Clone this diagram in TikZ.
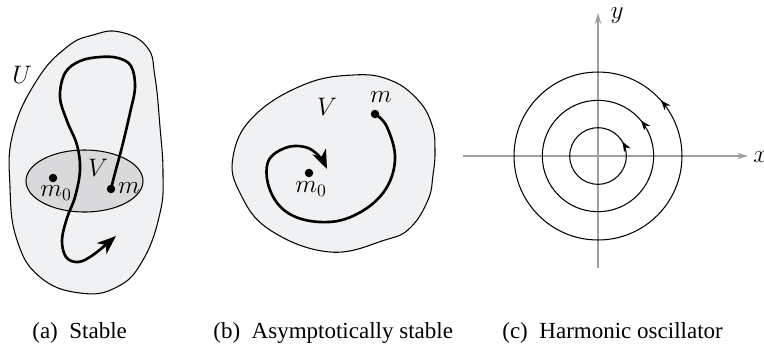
\documentclass[tikz,border=0pt]{standalone}
\usepackage{fontspec}
\setmainfont{Liberation Serif}
\usetikzlibrary{arrows.meta,decorations.markings}
\definecolor{outerfill}{HTML}{F0F1F3}
\definecolor{innerfill}{HTML}{D9D9DB}
\definecolor{axisgray}{HTML}{A0A0A0}
\begin{document}
\begin{tikzpicture}[x=0.02cm,y=-0.02cm,
  lbl/.style={font=\fontsize{14.5}{16}\selectfont, inner sep=0pt},
  captext/.style={font=\fontsize{13.1}{15}\selectfont, inner sep=0pt, anchor=base west},
  blob/.style={draw=black, line width=0.6pt, fill=outerfill},
  traj/.style={line width=1.5pt, line join=round, line cap=round},
  bigtip/.style={-{Stealth[length=3.8mm,width=2.9mm,inset=1.1mm]}},
  dotnode/.style={circle, fill=black, inner sep=0pt, minimum size=0.17cm},
  axis/.style={draw=axisgray, line width=0.6pt, -{Stealth[length=2.2mm,width=1.3mm,inset=0.7mm]}},
  orbit/.style={line width=0.6pt, postaction={decorate}}
]
\useasboundingbox (0,0) rectangle (764,346);

% ---------- (a) Stable ----------
\draw[blob] plot[smooth cycle, tension=0.75] coordinates {
  (120,32) (147,47) (155,77) (160,127) (163,173) (160,213) (143,260) (117,287)
  (80,293) (40,277) (17,240) (10,187) (13,133) (37,80) (67,47) (93,35)};
\draw[line width=0.6pt, fill=innerfill] (84.5,181) ellipse [x radius=58.5, y radius=31];
\node[dotnode] (a-m0) at (53,178) {};
\node[dotnode] (a-m) at (111,189) {};
\coordinate (a-end) at (116,236);
\draw[traj, bigtip] plot[smooth, tension=0.6] coordinates {
  (a-m) (115,173) (122,147) (130,113) (135,87) (131,66) (118,58) (100,57) (80,61)
  (65,73) (60,97) (67,121) (77,145) (80,170) (75,197) (67,218) (62,240) (66,257)
  (78,262) (93,255) (a-end)};
\node[lbl] (a-U) at (22,75) {$U$};
\node[lbl] (a-V) at (98,168) {$V$};
\node[lbl] (a-m0l) at (56,193) {$m_0$};
\node[lbl] (a-ml) at (129,188) {$m$};

% ---------- (b) Asymptotically stable ----------
\draw[blob] plot[smooth cycle, tension=0.7] coordinates {
  (233,157) (253,117) (303,85) (353,75) (390,80) (418,100) (432,125) (435,150)
  (433,175) (428,200) (410,228) (385,240) (330,252) (270,230) (240,193)};
\node[dotnode] (b-m0) at (309,173) {};
\node[dotnode] (b-m) at (375,114) {};
\coordinate (b-end) at (327,169);
\draw[traj, bigtip] plot[smooth, tension=0.65] coordinates {
  (b-m) (387,127) (395,160) (383,193) (353,216) (320,222) (288,213) (270,190)
  (268,162) (285,148) (305,147) (319,156) (b-end)};
\node[lbl] (b-V) at (327,107) {$V$};
\node[lbl] (b-ml) at (381,97) {$m$};
\node[lbl] (b-m0l) at (311,189) {$m_0$};

% ---------- (c) Harmonic oscillator ----------
\coordinate (c-o) at (598,156);
\coordinate (c-xl) at (463,156);
\coordinate (c-xr) at (748,156);
\coordinate (c-yb) at (598,268);
\coordinate (c-yt) at (598,13);
\draw[axis] (c-xl) -- (c-xr);
\draw[axis] (c-yb) -- (c-yt);
\node[lbl, anchor=west] (c-x) at (753,157) {$x$};
\node[lbl] (c-y) at (617,16) {$y$};
\draw[orbit, decoration={markings, mark=at position 0.085 with {\arrow{Stealth[length=2mm,width=1.5mm]}}}]
  (c-o) ++(0:0.566cm) arc[start angle=0, end angle=360, radius=0.566cm];
\draw[orbit, decoration={markings, mark=at position 0.11 with {\arrow{Stealth[length=2mm,width=1.5mm]}}}]
  (c-o) ++(0:1.114cm) arc[start angle=0, end angle=360, radius=1.114cm];
\draw[orbit, decoration={markings, mark=at position 0.115 with {\arrow{Stealth[length=2mm,width=1.5mm]}}}]
  (c-o) ++(0:1.68cm) arc[start angle=0, end angle=360, radius=1.68cm];

% ---------- captions ----------
\node[captext] (cap-a) at (32,338) {(a)\hspace{0.5em}Stable};
\node[captext] (cap-b) at (213,338) {(b)\hspace{0.5em}Asymptotically stable};
\node[captext] (cap-c) at (502,338) {(c)\hspace{0.5em}Harmonic oscillator};
\end{tikzpicture}
\end{document}
